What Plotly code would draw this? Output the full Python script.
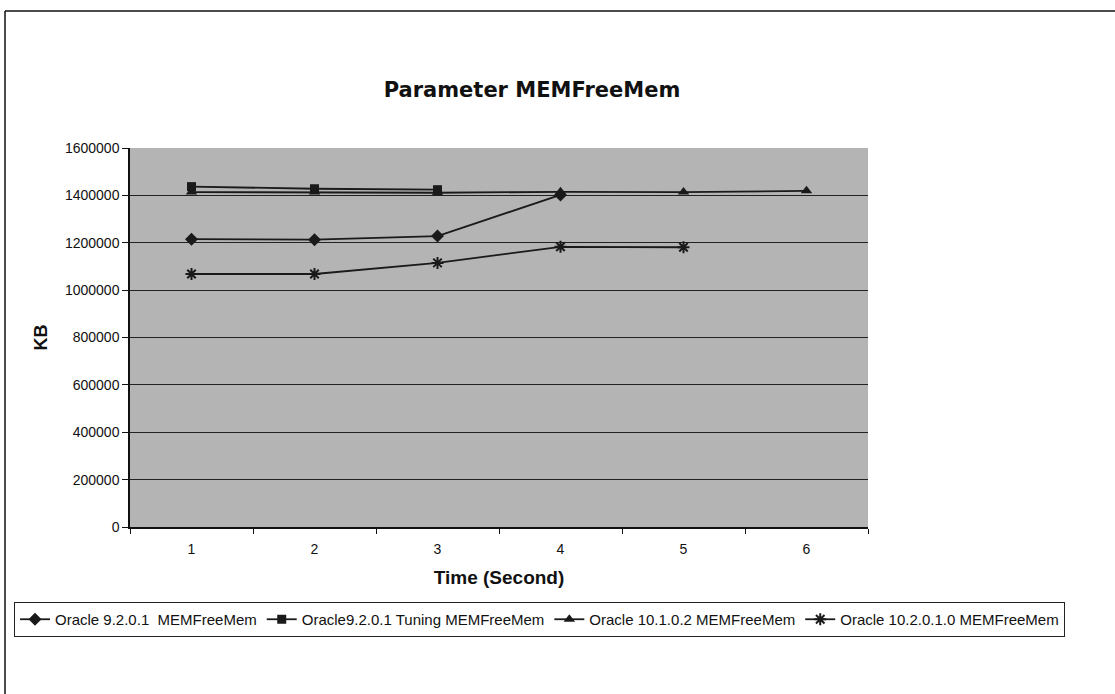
import plotly.graph_objects as go

categories = ["1", "2", "3", "4", "5", "6"]
s1_name = "Oracle 9.2.0.1  MEMFreeMem"
s1_values = [1215000, 1213000, 1228000, 1402000]
s2_name = "Oracle9.2.0.1 Tuning MEMFreeMem"
s2_values = [1437000, 1428000, 1424000]
s3_name = "Oracle 10.1.0.2 MEMFreeMem"
s3_values = [1414000, 1414000, 1411000, 1415000, 1414000, 1419000]
s4_name = "Oracle 10.2.0.1.0 MEMFreeMem"
s4_values = [1068000, 1068000, 1115000, 1183000, 1181000]

y_ticks = [0, 200000, 400000, 600000, 800000, 1000000, 1200000, 1400000, 1600000]

series = [
    (s1_name, s1_values, "diamond", 10),
    (s2_name, s2_values, "square", 9),
    (s3_name, s3_values, "triangle-up", 10),
    (s4_name, s4_values, "asterisk-open", 10),
]

fig = go.Figure()
for name, vals, sym, sz in series:
    fig.add_trace(go.Scatter(
        x=categories[:len(vals)], y=vals, name=name, mode="lines+markers",
        line=dict(color="#1a1a1a", width=1.8),
        marker=dict(symbol=sym, size=sz, color="#1a1a1a",
                    line=dict(color="#1a1a1a", width=2 if sym == "asterisk-open" else 0)),
    ))

Wd, Ht = 1115, 694
L, R, T, B = 130, 868, 148, 527
def fx(x): return x / Wd
def fy(y): return 1 - y / Ht

frame = dict(color="#111", width=1.5)
fig.add_shape(type="line", xref="paper", yref="paper", x0=fx(5), x1=fx(1115), y0=fy(11), y1=fy(11), line=frame)
fig.add_shape(type="line", xref="paper", yref="paper", x0=fx(5), x1=fx(5), y0=fy(11), y1=fy(694), line=frame)

fig.update_layout(
    width=Wd, height=Ht,
    margin=dict(l=0, r=0, t=0, b=0, autoexpand=False),
    paper_bgcolor="white", plot_bgcolor="#b4b4b4",
    font=dict(family="Liberation Sans, Arial", color="#111", size=14),
    title=dict(text="<b>Parameter MEMFreeMem</b>", x=fx(532), xanchor="center",
               y=fy(90), yanchor="middle",
               font=dict(family="DejaVu Sans", size=21, color="#111")),
    xaxis=dict(domain=[fx(L), fx(R)], type="category", categoryorder="array", categoryarray=categories,
               range=[-0.5, 5.5], tickson="boundaries", ticks="outside", ticklen=5,
               tickcolor="#111", showline=True, linecolor="#111", linewidth=1.5,
               showgrid=False, mirror=False, automargin=False,
               tickfont=dict(size=14), ticklabelstandoff=8,
               title=dict(text="<b>Time (Second)</b>", font=dict(size=19), standoff=15)),
    yaxis=dict(domain=[fy(B), fy(T)], range=[0, 1600000], tickvals=y_ticks, tickformat="d", ticks="outside",
               ticklen=6, tickcolor="#111", showline=True, linecolor="#111", linewidth=1.5,
               showgrid=True, gridcolor="#222", gridwidth=1, zeroline=False, automargin=False,
               tickfont=dict(size=14),
               title=dict(text="<b>KB</b>", font=dict(size=18), standoff=13)),
    legend=dict(orientation="h", x=fx(14), xanchor="left", y=fy(602), yanchor="top",
                bordercolor="#222", borderwidth=1, bgcolor="white",
                font=dict(size=15), itemwidth=30, tracegroupgap=0),
    showlegend=True,
)

fig.write_html("out.html")
